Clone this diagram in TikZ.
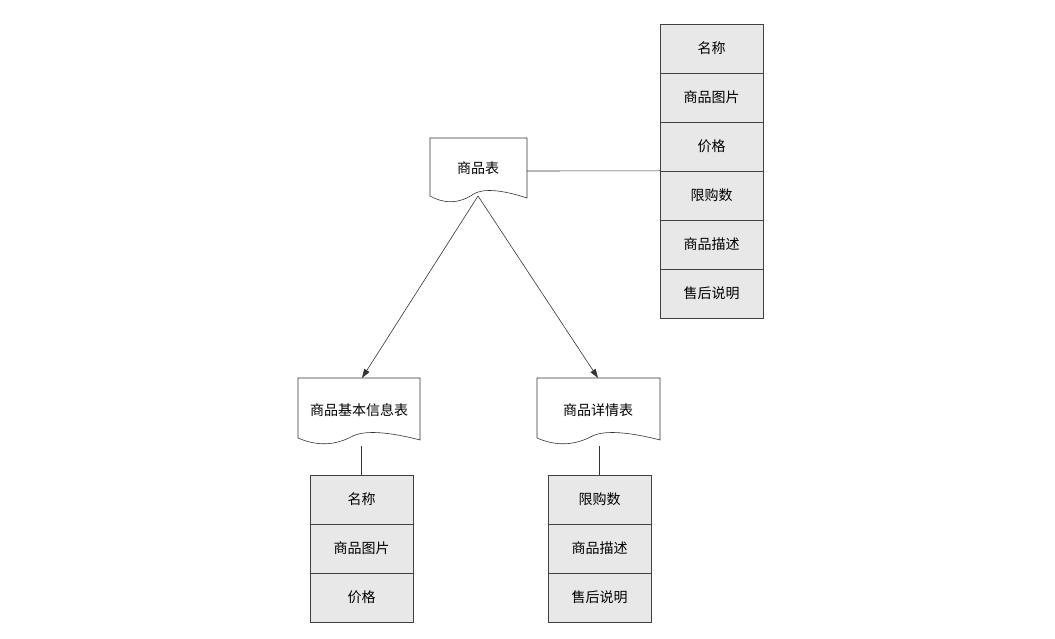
\documentclass[tikz,border=0pt]{standalone}
\usepackage{fontspec}
\setmainfont{Noto Sans CJK SC}
\usetikzlibrary{arrows.meta}
\begin{document}
\begin{tikzpicture}[x=1pt,y=-1pt,
  cell/.style={draw=black!75,fill=black!9,minimum width=103pt,minimum height=49pt,inner sep=0pt,font=\fontsize{14}{16}\selectfont},
  doc/.style={draw=black!80,fill=white,line width=0.6pt},
  lbl/.style={font=\fontsize{14}{16}\selectfont},
  con/.style={draw=black!80,line width=0.6pt},
  arr/.style={con,-{Triangle[length=9pt,width=6pt]}}]
\useasboundingbox (0,0) rectangle (1055,639);
\newcommand{\docshape}[4]{% x1 y1 x2 ybottom
  \draw[doc] (#1,#2) -- (#3,#2) -- (#3,#4)
    .. controls ({#3-0.25*(#3-#1)},{#4-8}) and ({#1+0.55*(#3-#1)},{#4-10}) .. ({#1+0.45*(#3-#1)},{#4-4})
    .. controls ({#1+0.3*(#3-#1)},{#4+6}) and ({#1+0.15*(#3-#1)},{#4+6}) .. (#1,{#4-2}) -- cycle;
}
\docshape{430}{138}{527}{198}
\node[lbl] (top) at (478,168) {商品表};
\coordinate (topr) at (527,171);
\coordinate (topb) at (478,196);
\docshape{298}{378}{420}{440}
\node[lbl] (left) at (359,410) {商品基本信息表};
\coordinate (leftt) at (362,378);
\coordinate (leftb) at (361.5,446);
\docshape{537}{378}{660}{440}
\node[lbl] (right) at (598,410) {商品详情表};
\coordinate (rightt) at (598,378);
\coordinate (rightb) at (599.5,446);
\foreach \t [count=\i] in {名称,商品图片,价格,限购数,商品描述,售后说明}
  \node[cell] (R\i) at (711.5,{24+49*(\i-0.5)}) {\t};
\foreach \t [count=\i] in {名称,商品图片,价格}
  \node[cell] (L\i) at (361.5,{475+49*(\i-0.5)}) {\t};
\foreach \t [count=\i] in {限购数,商品描述,售后说明}
  \node[cell] (M\i) at (599.5,{475+49*(\i-0.5)}) {\t};
\draw[con] (topr) -- (R4.north west);
\draw[arr] (topb) -- (leftt);
\draw[arr] (topb) -- (rightt);
\draw[con] (leftb) -- (L1.north);
\draw[con] (rightb) -- (M1.north);
\end{tikzpicture}
\end{document}
